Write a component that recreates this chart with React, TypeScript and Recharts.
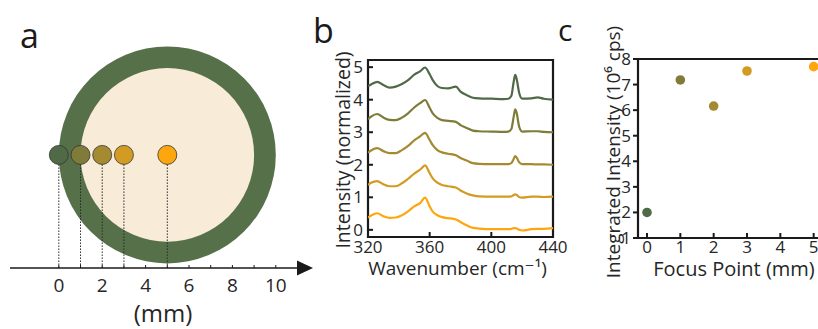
import React from "react";
import {
  ScatterChart,
  Scatter,
  LineChart,
  Line,
  XAxis,
  YAxis,
  ReferenceLine,
  ReferenceDot,
  ReferenceArea,
  Cell,
  Label,
} from "recharts";

const FONT = "'Open Sans', 'DejaVu Sans', sans-serif";
const INK = "#1a1a1a";
const TEXT = "#262626";

// focus points along the sample (mm), shared by panels a and c
const focusPoints = [0, 1, 2, 3, 5];
const pointColors = ["#506947", "#7f7b38", "#a48a30", "#d29b22", "#fda60e"];

// sample disk (mm)
const diskCenterMm = 5;
const diskRadiusMm = 5;
const rimWidthMm = 1;
const mmTicks = [0, 1, 2, 3, 4, 5, 6, 7, 8, 9, 10];

// panel b: Raman spectra, offset by 1 each (values as plotted)
const wavenumbers = [
  320, 322, 326, 330, 334, 338, 342, 346, 350, 354, 357, 360, 362, 365, 368, 372, 377,
  380, 384, 388, 392, 400, 408, 411, 413, 414.5, 415.5, 416.5, 418, 420, 426, 430, 434, 440,
];
const specAt0 = [
  4.42, 4.47, 4.55, 4.45, 4.37, 4.4, 4.48, 4.6, 4.77, 4.88, 4.99, 4.78, 4.6, 4.42, 4.36, 4.35, 4.4,
  4.25, 4.14, 4.06, 4.04, 4.03, 4.02, 4.03, 4.12, 4.55, 4.76, 4.62, 4.22, 4.03, 4.04, 4.07, 4.03, 4.0,
];
const specAt1 = [
  3.4, 3.48, 3.56, 3.45, 3.38, 3.37, 3.45, 3.58, 3.76, 3.9, 3.99, 3.75, 3.58, 3.44, 3.37, 3.35, 3.32,
  3.22, 3.13, 3.05, 3.03, 3.02, 3.01, 3.02, 3.1, 3.48, 3.7, 3.58, 3.18, 3.02, 3.03, 3.03, 3.01, 3.0,
];
const specAt2 = [
  2.37, 2.44, 2.51, 2.42, 2.36, 2.36, 2.45, 2.58, 2.75, 2.88, 2.98, 2.76, 2.6, 2.45, 2.38, 2.34, 2.29,
  2.21, 2.13, 2.05, 2.03, 2.02, 2.02, 2.02, 2.05, 2.18, 2.27, 2.22, 2.08, 2.02, 2.02, 2.01, 2.01, 2.0,
];
const specAt3 = [
  1.38, 1.45, 1.5, 1.4, 1.34, 1.34, 1.43, 1.57, 1.73, 1.86, 1.98, 1.74, 1.58, 1.45, 1.38, 1.34, 1.3,
  1.21, 1.12, 1.06, 1.03, 1.02, 1.02, 1.02, 1.03, 1.07, 1.09, 1.07, 1.01, 0.99, 1.02, 1.02, 1.01, 1.02,
];
const specAt5 = [
  0.38, 0.44, 0.51, 0.42, 0.37, 0.38, 0.45, 0.57, 0.72, 0.83, 0.99, 0.72, 0.56, 0.45, 0.39, 0.36, 0.32,
  0.24, 0.14, 0.06, 0.04, 0.02, 0.02, 0.02, 0.03, 0.05, 0.05, 0.04, 0.0, -0.02, 0.02, 0.03, 0.03, 0.05,
];
const wnTicks = [320, 360, 400, 440];
const intensityTicks = [0, 1, 2, 3, 4, 5];

// panel c: integrated intensity (10^6 cps) at each focus point
const integratedIntensity = [2.0, 7.18, 6.16, 7.53, 7.7];
const focusTicks = [0, 1, 2, 3, 4, 5];
const integratedTicks = [1, 2, 3, 4, 5, 6, 7, 8];

const spectra = [specAt0, specAt1, specAt2, specAt3, specAt5];
const spectraRows = wavenumbers.map((wn, i) => {
  const row: Record<string, number> = { wn };
  spectra.forEach((s, k) => (row["s" + k] = s[i]));
  return row;
});

// ---- panel a geometry
const A_W = 320;
const A_H = 329;
const A_MARGIN = { top: 42, right: 16, bottom: 21, left: 10 };
const A_X_DOMAIN: [number, number] = [-2.25, 11.3];
const A_Y_DOMAIN: [number, number] = [-5.21, 5.2];
const aPxPerMm = (A_W - A_MARGIN.left - A_MARGIN.right) / (A_X_DOMAIN[1] - A_X_DOMAIN[0]);

const mmTick = (p: any) => {
  const v = p.payload.value;
  return (
    <g>
      <line x1={p.x} x2={p.x} y1={p.y} y2={p.y - 3} stroke={INK} strokeWidth={1} />
      {v % 2 === 0 && (
        <text x={p.x} y={p.y + 24} textAnchor="middle" fontSize={19} fill={TEXT} fontFamily={FONT}>
          {v}
        </text>
      )}
    </g>
  );
};

function PanelA() {
  const disk = [{ x: diskCenterMm, y: 0 }];
  const pts = focusPoints.map((x) => ({ x, y: 0 }));
  return (
    <ScatterChart width={A_W} height={A_H} margin={A_MARGIN}>
      <XAxis
        type="number"
        dataKey="x"
        domain={A_X_DOMAIN}
        allowDataOverflow
        ticks={mmTicks}
        interval={0}
        height={40}
        axisLine={{ stroke: INK, strokeWidth: 1.5 }}
        tickLine={false}
        tickSize={0}
        tickMargin={0}
        tick={mmTick}
      >
        <Label
          content={(props: any) => {
            const vb = props.viewBox;
            return (
              <text x={vb.x + vb.width / 2 + 6} y={vb.y + 54} textAnchor="middle" fontSize={24} fill={TEXT} fontFamily={FONT}>
                (mm)
              </text>
            );
          }}
        />
      </XAxis>
      <YAxis type="number" dataKey="y" domain={A_Y_DOMAIN} allowDataOverflow hide />
      <Scatter
        data={disk}
        isAnimationActive={false}
        zIndex={-10}
        shape={(p: any) => (
          <g>
            <circle cx={p.cx} cy={p.cy} r={diskRadiusMm * aPxPerMm} fill="#56704a" />
            <circle cx={p.cx} cy={p.cy} r={(diskRadiusMm - rimWidthMm) * aPxPerMm} fill="#f8ecd9" />
          </g>
        )}
      />
      {focusPoints.map((x) => (
        <ReferenceLine
          key={x}
          zIndex={650}
          segment={[
            { x, y: -0.44 },
            { x, y: A_Y_DOMAIN[0] },
          ]}
          stroke="#2a2a2a"
          strokeWidth={1}
          strokeDasharray="1.5 1.5"
        />
      ))}
      <Scatter
        data={pts}
        isAnimationActive={false}
        shape={(p: any) => <circle cx={p.cx} cy={p.cy} r={9.5} fill={p.fill} stroke="#333" strokeWidth={0.8} />}
      >
        {pts.map((_, i) => (
          <Cell key={i} fill={pointColors[i]} />
        ))}
      </Scatter>
      <ReferenceDot
        x={A_X_DOMAIN[1]}
        y={A_Y_DOMAIN[0]}
        ifOverflow="visible"
        zIndex={650}
        shape={(p: any) => (
          <path d={`M${p.cx - 7},${p.cy - 7.5}L${p.cx + 9},${p.cy}L${p.cx - 7},${p.cy + 7.5}Z`} fill={INK} />
        )}
      />
    </ScatterChart>
  );
}

// inward ticks (boxed axes)
const inwardBottomTick = (len: number, labelDy: number) => (p: any) => (
  <g>
    <line x1={p.x} x2={p.x} y1={p.y} y2={p.y - len} stroke={INK} strokeWidth={2} />
    <text x={p.x} y={p.y + labelDy} textAnchor="middle" fontSize={17} fill={TEXT} fontFamily={FONT}>
      {p.payload.value}
    </text>
  </g>
);

const inwardLeftTick = (p: any) => (
  <g>
    <line x1={p.x} x2={p.x + 5} y1={p.y} y2={p.y} stroke={INK} strokeWidth={2} />
    <text x={p.x - 5} y={p.y} dy="0.36em" textAnchor="end" fontSize={17} fill={TEXT} fontFamily={FONT}>
      {p.payload.value}
    </text>
  </g>
);

const rotatedTitle = (title: string, dx: number, dyc: number, size: number) => (props: any) => {
  const vb = props.viewBox;
  const x = vb.x + dx;
  const y = vb.y + vb.height / 2 + dyc;
  return (
    <text x={x} y={y} dy="0.35em" transform={`rotate(-90, ${x}, ${y})`} textAnchor="middle" fontSize={size} fill={TEXT} fontFamily={FONT}>
      {title}
    </text>
  );
};

const bottomTitle = (title: string, dx: number, dy: number, size: number) => (props: any) => {
  const vb = props.viewBox;
  return (
    <text x={vb.x + vb.width / 2 + dx} y={vb.y + dy} textAnchor="middle" fontSize={size} fill={TEXT} fontFamily={FONT}>
      {title}
    </text>
  );
};

function PanelB() {
  return (
    <LineChart width={270} height={329} margin={{ top: 60, right: 17, bottom: 52, left: 38 }} data={spectraRows}>
      <XAxis
        type="number"
        dataKey="wn"
        domain={[320, 440]}
        allowDataOverflow
        ticks={wnTicks}
        interval={0}
        height={40}
        axisLine={false}
        tickLine={false}
        tickSize={0}
        tickMargin={0}
        tick={inwardBottomTick(5, 16)}
      >
        <Label content={bottomTitle("Wavenumber (cm⁻¹)", -3, 38, 19)} />
      </XAxis>
      <YAxis
        type="number"
        domain={[-0.22, 5.22]}
        allowDataOverflow
        ticks={intensityTicks}
        interval={0}
        width={30}
        axisLine={false}
        tickLine={false}
        tickSize={0}
        tickMargin={0}
        tick={inwardLeftTick}
      >
        <Label content={rotatedTitle("Intensity (normalized)", 5, 1.5, 19.5)} />
      </YAxis>
      <ReferenceArea x1={320} x2={440} y1={-0.22} y2={5.22} fill="none" stroke={INK} strokeWidth={2.2} ifOverflow="visible" />
      {spectra.map((_, k) => (
        <Line
          key={k}
          dataKey={"s" + k}
          type="monotone"
          stroke={pointColors[k]}
          strokeWidth={2.2}
          dot={false}
          isAnimationActive={false}
        />
      ))}
    </LineChart>
  );
}

function PanelC() {
  const pts = focusPoints.map((x, i) => ({ x, y: integratedIntensity[i] }));
  return (
    <ScatterChart width={270} height={329} margin={{ top: 59, right: 13, bottom: 51, left: 38 }}>
      <XAxis
        type="number"
        dataKey="x"
        domain={[-0.27, 5.4]}
        allowDataOverflow
        ticks={focusTicks}
        interval={0}
        height={40}
        axisLine={false}
        tickLine={false}
        tickSize={0}
        tickMargin={0}
        tick={inwardBottomTick(5, 15)}
      >
        <Label content={bottomTitle("Focus Point (mm)", 1.5, 38, 20)} />
      </XAxis>
      <YAxis
        type="number"
        dataKey="y"
        domain={[1, 8]}
        allowDataOverflow
        ticks={integratedTicks}
        interval={0}
        width={30}
        axisLine={false}
        tickLine={{ stroke: INK, strokeWidth: 2 }}
        tickSize={5}
        tickMargin={2}
        tick={{ fill: TEXT, fontSize: 17, fontFamily: FONT }}
      >
        <Label content={rotatedTitle("Integrated Intensity (10⁶ cps)", 5, 3.5, 19)} />
      </YAxis>
      <ReferenceArea x1={-0.27} x2={5.4} y1={1} y2={8} fill="none" stroke={INK} strokeWidth={2.2} ifOverflow="visible" />
      <Scatter data={pts} isAnimationActive={false} shape={(p: any) => <circle cx={p.cx} cy={p.cy} r={4.8} fill={p.fill} />}>
        {pts.map((_, i) => (
          <Cell key={i} fill={pointColors[i]} />
        ))}
      </Scatter>
    </ScatterChart>
  );
}

export default function App() {
  return (
    <div
      style={{
        position: "fixed",
        left: 0,
        top: 0,
        width: 818,
        height: 329,
        overflow: "hidden",
        background: "#fff",
        fontFamily: FONT,
      }}
    >
      <svg width={818} height={329} style={{ position: "absolute", left: 0, top: 0 }}>
        <text x={20} y={48} fontSize={34} fill={INK} fontFamily={FONT}>a</text>
        <text x={313} y={43} fontSize={34} fill={INK} fontFamily={FONT}>b</text>
        <text x={558} y={41} fontSize={30} fill={INK} fontFamily={FONT}>c</text>
      </svg>
      <div style={{ position: "absolute", left: 0, top: 0 }}>
        <PanelA />
      </div>
      <div style={{ position: "absolute", left: 300, top: 0 }}>
        <PanelB />
      </div>
      <div style={{ position: "absolute", left: 570, top: 0 }}>
        <PanelC />
      </div>
    </div>
  );
}
